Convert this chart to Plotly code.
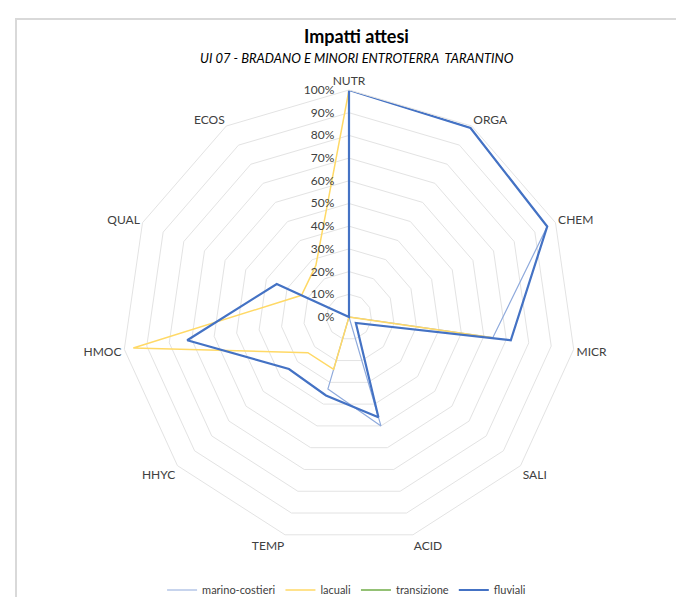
import plotly.graph_objects as go

categories = ["NUTR", "ORGA", "CHEM", "MICR", "SALI", "ACID", "TEMP", "HHYC", "HMOC", "QUAL", "ECOS"]
marino_costieri = [1.00, 0.99, 0.96, 0.64, 0.00, 0.50, 0.33, 0.00, 0.00, 0.00, 0.00]
lacuali = [1.00, 0.00, 0.00, 0.64, 0.00, 0.00, 0.24, 0.24, 0.96, 0.23, 0.27]
transizione = [0.00, 0.00, 0.00, 0.00, 0.00, 0.00, 0.00, 0.00, 0.00, 0.00, 0.00]
fluviali = [1.00, 0.99, 0.96, 0.72, 0.04, 0.46, 0.36, 0.35, 0.72, 0.35, 0.00]
tick_vals = [0, 0.1, 0.2, 0.3, 0.4, 0.5, 0.6, 0.7, 0.8, 0.9, 1.0]

series = [
    ("marino-costieri", marino_costieri, "#8FAADC", 1.2),
    ("lacuali", lacuali, "#FFD966", 1.5),
    ("transizione", transizione, "#70AD47", 1.5),
    ("fluviali", fluviali, "#4472C4", 2.2),
]

FONT = "Lato, 'Open Sans', sans-serif"

fig = go.Figure()
for name, vals, color, w in series:
    fig.add_trace(go.Scatterpolar(
        r=vals + vals[:1],
        theta=categories + categories[:1],
        mode="lines",
        name=name,
        line=dict(color=color, width=w),
        hoverinfo="skip",
    ))

W, H = 684, 597
cx, cy, R = 349, 318, 227
dx, dy = 8, 9  # compensation for plotly's polygon centering
fig.update_layout(
    width=W, height=H,
    margin=dict(l=0, r=0, t=0, b=0),
    paper_bgcolor="white",
    plot_bgcolor="white",
    font=dict(family=FONT, color="#404040", size=12),
    showlegend=True,
    legend=dict(orientation="h", x=0.495, xanchor="center", y=1 - 582 / H, yanchor="middle",
                font=dict(size=11, color="#404040"), traceorder="normal"),
    polar=dict(
        domain=dict(x=[(cx - dx - R) / W, (cx - dx + R) / W],
                    y=[1 - (cy - dy + R) / H, 1 - (cy - dy - R) / H]),
        bgcolor="white",
        gridshape="linear",
        radialaxis=dict(
            range=[0, 1], tickvals=tick_vals, tickformat=".0%",
            angle=90, tickangle=90, side="counterclockwise",
            showline=False, ticks="outside", ticklen=10, tickcolor="rgba(0,0,0,0)",
            gridcolor="#E3E3E3", gridwidth=1,
            tickfont=dict(size=12, color="#404040"),
        ),
        angularaxis=dict(
            direction="clockwise", rotation=90,
            showgrid=False, showline=True, linecolor="#E3E3E3", linewidth=1,
            ticks="", tickfont=dict(size=12, color="#404040"),
        ),
    ),
    annotations=[
        dict(text="<b>Impatti attesi</b>", x=cx / W, y=1 - 28 / H, xref="paper", yref="paper",
             showarrow=False, font=dict(size=18, color="#000000", family=FONT), xanchor="center", yanchor="middle"),
        dict(text="<i>UI 07 - BRADANO E MINORI ENTROTERRA  TARANTINO</i>", x=cx / W, y=1 - 50 / H,
             xref="paper", yref="paper", showarrow=False,
             font=dict(size=13, color="#000000", family=FONT), xanchor="center", yanchor="middle"),
    ],
    shapes=[
        dict(type="rect", xref="paper", yref="paper", x0=8 / W, y0=1 - 11 / H, x1=1.05, y1=-0.05,
             line=dict(color="#D9D9D9", width=2), fillcolor="rgba(0,0,0,0)", layer="below"),
    ],
)

fig.write_html("out.html")
